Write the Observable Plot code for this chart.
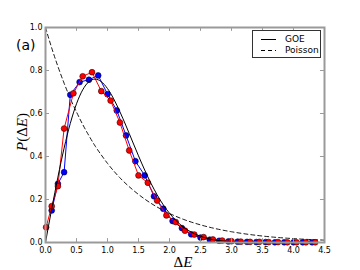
<!DOCTYPE html>
<html><head><meta charset="utf-8">
<script src="https://cdn.jsdelivr.net/npm/d3@7"></script>
<script src="https://cdn.jsdelivr.net/npm/@observablehq/plot@0.6"></script>
<style>
body{margin:0;background:#fff;}
#wrap{position:relative;width:360px;height:270px;font-family:"DejaVu Sans",sans-serif;}
.ov{position:absolute;color:#000;white-space:nowrap;line-height:1;}
</style>
</head><body>
<div id="wrap"></div>
<script>
// tick labels
const xTicks = [0, 0.5, 1.0, 1.5, 2.0, 2.5, 3.0, 3.5, 4.0, 4.5];
const yTicks = [0, 0.2, 0.4, 0.6, 0.8, 1.0];

// red series
const redX = [0.01, 0.10, 0.20, 0.30, 0.45, 0.60, 0.75, 0.90, 1.05, 1.20, 1.35, 1.50, 1.65, 1.80, 1.95, 2.10, 2.25, 2.40, 2.55, 2.70, 2.85, 3.00, 3.15, 3.30, 3.45, 3.60, 3.75, 3.90, 4.05, 4.20, 4.35];
const redY = [0.071, 0.169, 0.262, 0.53, 0.694, 0.773, 0.792, 0.704, 0.66, 0.558, 0.428, 0.312, 0.278, 0.195, 0.126, 0.095, 0.055, 0.037, 0.025, 0.014, 0.009, 0.006, 0.004, 0.003, 0.003, 0.002, 0.002, 0.001, 0.001, 0.001, 0.001];

// blue series
const blueX = [0.10, 0.20, 0.30, 0.40, 0.55, 0.70, 0.85, 1.00, 1.15, 1.30, 1.45, 1.60, 1.75, 1.90, 2.05, 2.20, 2.35, 2.50, 2.65, 2.80, 2.95, 3.10, 3.25, 3.40, 3.55, 3.70, 3.85, 4.00, 4.15, 4.30];
const blueY = [0.149, 0.273, 0.327, 0.687, 0.746, 0.757, 0.777, 0.69, 0.614, 0.498, 0.378, 0.312, 0.215, 0.157, 0.100, 0.067, 0.038, 0.023, 0.013, 0.008, 0.005, 0.004, 0.003, 0.002, 0.002, 0.001, 0.001, 0.001, 0.001, 0.001];

// GOE curve
const goeX = [0, 0.1, 0.2, 0.3, 0.4, 0.5, 0.6, 0.7, 0.8, 0.9, 1.0, 1.1, 1.2, 1.3, 1.4, 1.5, 1.6, 1.7, 1.8, 1.9, 2.0, 2.2, 2.4, 2.6, 2.8, 3.0, 3.5, 4.0, 4.5];
const goeY = [0, 0.156, 0.304, 0.439, 0.554, 0.645, 0.710, 0.748, 0.760, 0.748, 0.716, 0.668, 0.608, 0.542, 0.472, 0.403, 0.337, 0.276, 0.222, 0.175, 0.136, 0.077, 0.041, 0.020, 0.009, 0.004, 0.0004, 0, 0];

// Poisson curve
const poiX = [0, 0.1, 0.2, 0.3, 0.4, 0.5, 0.6, 0.7, 0.8, 0.9, 1.0, 1.2, 1.4, 1.6, 1.8, 2.0, 2.25, 2.5, 2.75, 3.0, 3.5, 4.0, 4.5];
const poiY = [1.0, 0.905, 0.819, 0.741, 0.670, 0.607, 0.549, 0.497, 0.449, 0.407, 0.368, 0.301, 0.247, 0.202, 0.165, 0.135, 0.105, 0.082, 0.064, 0.050, 0.030, 0.018, 0.011];

const red = redX.map((x, i) => ({x, y: redY[i]}));
const blue = blueX.map((x, i) => ({x, y: blueY[i]}));
const goe = goeX.map((x, i) => ({x, y: goeY[i]}));
const poi = poiX.map((x, i) => ({x, y: poiY[i]}));

const gray = "#9a9a9a";
const fmt = d => d.toFixed(1);

const chart = Plot.plot({
  width: 360, height: 270,
  marginLeft: 45, marginRight: 36, marginTop: 27, marginBottom: 28,
  style: {fontFamily: "DejaVu Sans, sans-serif", fontSize: "8px", color: "#000", background: "#fff"},
  x: {domain: [0, 4.5]},
  y: {domain: [0, 1]},
  marks: [
    Plot.line(poi, {x: "x", y: "y", stroke: "#000", strokeWidth: 0.9, strokeDasharray: "4,3", curve: "monotone-x"}),
    Plot.line(blue, {x: "x", y: "y", stroke: "#0000ff", strokeWidth: 1}),
    Plot.dot(blue, {x: "x", y: "y", r: 2.9, fill: "#0000ff", stroke: "#000033", strokeWidth: 0.6}),
    Plot.line(red, {x: "x", y: "y", stroke: "#ff0000", strokeWidth: 1}),
    Plot.dot(red, {x: "x", y: "y", r: 2.9, fill: "#ff0000", stroke: "#330000", strokeWidth: 0.6}),
    Plot.line(goe, {x: "x", y: "y", stroke: "#000", strokeWidth: 1, curve: "monotone-x"}),
    Plot.ruleX(xTicks, {x: d => d, y1: 0, y2: 0.018, stroke: gray, strokeWidth: 1}),
    Plot.ruleX(xTicks, {x: d => d, y1: 1, y2: 0.982, stroke: gray, strokeWidth: 1}),
    Plot.ruleY(yTicks, {y: d => d, x1: 0, x2: 0.065, stroke: gray, strokeWidth: 1}),
    Plot.ruleY(yTicks, {y: d => d, x1: 4.5, x2: 4.435, stroke: gray, strokeWidth: 1}),
    Plot.frame({stroke: gray, strokeWidth: 2}),
    Plot.axisX(xTicks, {tickSize: 0, tickPadding: 5, tickFormat: fmt, label: null}),
    Plot.axisY(yTicks, {tickSize: 0, tickPadding: 3, tickFormat: fmt, label: null})
  ]
});

const wrap = document.getElementById("wrap");
wrap.appendChild(chart);

function ov(html, css) {
  const d = document.createElement("div");
  d.className = "ov";
  d.innerHTML = html;
  Object.assign(d.style, css);
  wrap.appendChild(d);
  return d;
}
// panel tag
ov("(a)", {left: "16px", top: "38px", fontSize: "14px"});
// x label
ov('&Delta;<i>E</i>', {left: "183px", top: "262px", fontSize: "15px", fontFamily: "Liberation Serif, serif", transform: "translate(-50%,-50%)"});
// y label
ov('<i>P</i>(&Delta;<i>E</i>)', {left: "22px", top: "132px", fontSize: "15px", fontFamily: "Liberation Serif, serif", transform: "translate(-50%,-50%) rotate(-90deg)"});
// legend
ov('<div style="position:relative;width:67px;height:26px;border:1px solid #333;background:#fff;font-size:9px;">' +
   '<svg width="67" height="26" style="position:absolute;left:0;top:0">' +
   '<line x1="8" x2="23" y1="8.5" y2="8.5" stroke="#000" stroke-width="1"/>' +
   '<line x1="8" x2="23" y1="19.5" y2="19.5" stroke="#000" stroke-width="1" stroke-dasharray="4,3"/></svg>' +
   '<span style="position:absolute;left:32px;top:4px">GOE</span>' +
   '<span style="position:absolute;left:32px;top:15px">Poisson</span></div>',
   {left: "252px", top: "30px"});
</script>
</body></html>
